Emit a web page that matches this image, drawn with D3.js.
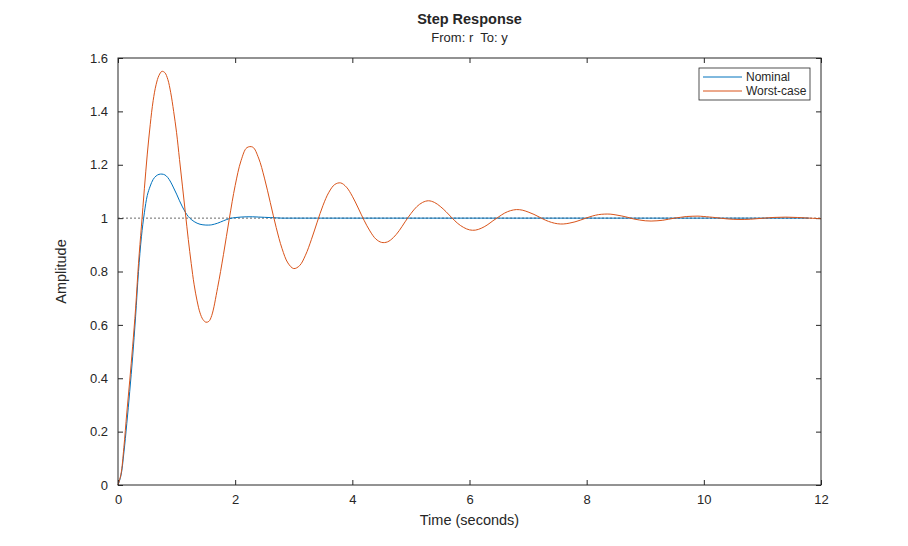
<!DOCTYPE html>
<html>
<head>
<meta charset="utf-8">
<script src="https://cdn.jsdelivr.net/npm/d3@7"></script>
<style>
  body { margin: 0; background: #fff; }
  svg { font-family: "Liberation Sans", Arial, sans-serif; }
</style>
</head>
<body>
<div id="chart"></div>
<script>
// time samples (seconds), shared by both responses
var timeS = [0, 0.05, 0.1, 0.15, 0.2, 0.25, 0.3, 0.35, 0.4, 0.45, 0.5, 0.55, 0.6, 0.65, 0.7, 0.75,
  0.8, 0.85, 0.9, 0.95, 1.0, 1.05, 1.1, 1.15, 1.2, 1.25, 1.3, 1.35, 1.4, 1.45, 1.5, 1.55, 1.6,
  1.7, 1.8, 1.9, 2.0, 2.1, 2.2, 2.3, 2.4, 2.5, 2.6, 2.7, 2.8, 2.9, 3.0, 3.1, 3.2, 3.3, 3.4, 3.5,
  3.6, 3.7, 3.8, 3.9, 4.0, 4.1, 4.2, 4.3, 4.4, 4.5, 4.6, 4.7, 4.8, 4.9, 5.0, 5.1, 5.2, 5.3, 5.4,
  5.5, 5.6, 5.7, 5.8, 5.9, 6.0, 6.1, 6.2, 6.3, 6.4, 6.5, 6.6, 6.7, 6.8, 6.9, 7.0, 7.1, 7.2, 7.3,
  7.4, 7.5, 7.6, 7.7, 7.8, 7.9, 8.0, 8.1, 8.2, 8.3, 8.4, 8.5, 8.6, 8.7, 8.8, 8.9, 9.0, 9.1, 9.2,
  9.3, 9.4, 9.5, 9.6, 9.7, 9.8, 9.9, 10.0, 10.2, 10.4, 10.6, 10.8, 11.0, 11.2, 11.4, 11.6, 11.8, 12.0];

var nominal = [0, 0.035, 0.12, 0.23, 0.35, 0.48, 0.63, 0.80, 0.93, 1.02, 1.085, 1.12, 1.145, 1.158, 1.164, 1.165,
  1.162, 1.152, 1.135, 1.113, 1.09, 1.065, 1.042, 1.022, 1.006, 0.995, 0.987, 0.981, 0.977, 0.975, 0.974, 0.974, 0.975,
  0.981, 0.990, 0.998, 1.002, 1.004, 1.005, 1.005, 1.004, 1.003, 1.002, 1.001, 1.0, 1.0, 1.0, 1.0, 1.0, 1.0, 1.0, 1.0,
  1.0, 1.0, 1.0, 1.0, 1.0, 1.0, 1.0, 1.0, 1.0, 1.0, 1.0, 1.0, 1.0, 1.0, 1.0, 1.0, 1.0, 1.0, 1.0,
  1.0, 1.0, 1.0, 1.0, 1.0, 1.0, 1.0, 1.0, 1.0, 1.0, 1.0, 1.0, 1.0, 1.0, 1.0, 1.0, 1.0, 1.0, 1.0,
  1.0, 1.0, 1.0, 1.0, 1.0, 1.0, 1.0, 1.0, 1.0, 1.0, 1.0, 1.0, 1.0, 1.0, 1.0, 1.0, 1.0, 1.0, 1.0,
  1.0, 1.0, 1.0, 1.0, 1.0, 1.0, 1.0, 1.0, 1.0, 1.0, 1.0, 1.0, 1.0, 1.0, 1.0, 1.0, 1.0];

var worstCase = [0, 0.04, 0.14, 0.27, 0.39, 0.52, 0.66, 0.83, 0.97, 1.11, 1.24, 1.35, 1.44, 1.50, 1.535, 1.55,
  1.545, 1.52, 1.47, 1.40, 1.32, 1.22, 1.12, 1.02, 0.92, 0.83, 0.75, 0.69, 0.645, 0.62, 0.61, 0.613, 0.635,
  0.739, 0.863, 0.998, 1.122, 1.215, 1.264, 1.266, 1.225, 1.150, 1.058, 0.965, 0.886, 0.832, 0.811, 0.822, 0.861, 0.919, 0.985, 1.048,
  1.097, 1.126, 1.132, 1.116, 1.082, 1.038, 0.992, 0.952, 0.922, 0.909, 0.911, 0.927, 0.953, 0.986, 1.017, 1.043, 1.059, 1.065, 1.059,
  1.044, 1.024, 1.001, 0.980, 0.965, 0.956, 0.955, 0.962, 0.974, 0.990, 1.005, 1.019, 1.028, 1.032, 1.030, 1.023, 1.014, 1.003, 0.992,
  0.984, 0.979, 0.978, 0.981, 0.986, 0.993, 1.001, 1.008, 1.013, 1.015, 1.015, 1.012, 1.008, 1.003, 0.997, 0.993, 0.990, 0.989, 0.990,
  0.992, 0.996, 1.000, 1.003, 1.006, 1.007, 1.0075, 1.006, 1.002, 0.997, 0.995, 0.996, 0.9995, 1.0026, 1.0037, 1.0024, 1.0, 0.998];

var seriesNames = ["Nominal", "Worst-case"];
var seriesColors = ["#0072BD", "#D95319"];
var xTicks = [0, 2, 4, 6, 8, 10, 12];
var yTicks = [0, 0.2, 0.4, 0.6, 0.8, 1, 1.2, 1.4, 1.6];

var svgWidth = 908, svgHeight = 546;
var margin = { top: 58, right: 87, bottom: 61, left: 118 };
var width = svgWidth - margin.left - margin.right;
var height = svgHeight - margin.top - margin.bottom;
var ink = "#262626";

var svg = d3.select("#chart").append("svg")
  .attr("width", svgWidth)
  .attr("height", svgHeight);

var chartGroup = svg.append("g")
  .attr("transform", `translate(${margin.left}, ${margin.top})`);

var xScale = d3.scaleLinear().domain([0, 12]).range([0, width]);
var yScale = d3.scaleLinear().domain([0, 1.6]).range([height, 0]);

// axes, ticks pointing inward on all four sides
function styleAxis(g) {
  g.select(".domain").remove();
  g.selectAll(".tick line").attr("stroke", ink);
  g.selectAll(".tick text").attr("fill", ink).attr("font-size", 13)
    .attr("font-family", "Liberation Sans, Arial, sans-serif");
}

chartGroup.append("g")
  .attr("transform", `translate(0, ${height})`)
  .call(d3.axisBottom(xScale).tickValues(xTicks).tickSizeInner(-5).tickSizeOuter(0).tickPadding(10).tickFormat(d3.format("d")))
  .call(styleAxis);

chartGroup.append("g")
  .call(d3.axisTop(xScale).tickValues(xTicks).tickSizeInner(-5).tickSizeOuter(0).tickFormat(""))
  .call(styleAxis);

chartGroup.append("g")
  .call(d3.axisLeft(yScale).tickValues(yTicks).tickSizeInner(-5).tickSizeOuter(0).tickPadding(10).tickFormat(d3.format("~g")))
  .call(styleAxis);

chartGroup.append("g")
  .attr("transform", `translate(${width}, 0)`)
  .call(d3.axisRight(yScale).tickValues(yTicks).tickSizeInner(-5).tickSizeOuter(0).tickFormat(""))
  .call(styleAxis);

// steady-state reference line
chartGroup.append("line")
  .attr("x1", xScale(0)).attr("x2", xScale(12))
  .attr("y1", yScale(1)).attr("y2", yScale(1))
  .attr("stroke", "#444")
  .attr("stroke-width", 0.8)
  .attr("stroke-dasharray", "2,2");

var line = d3.line()
  .x(d => xScale(d[0]))
  .y(d => yScale(d[1]))
  .curve(d3.curveCatmullRom);

[nominal, worstCase].forEach(function(vals, i) {
  chartGroup.append("path")
    .datum(timeS.map((t, k) => [t, vals[k]]))
    .attr("fill", "none")
    .attr("stroke", seriesColors[i])
    .attr("stroke-width", 1)
    .attr("d", line);
});

// box
chartGroup.append("rect")
  .attr("width", width).attr("height", height)
  .attr("fill", "none")
  .attr("stroke", ink)
  .attr("stroke-width", 1);

// legend
var legend = chartGroup.append("g")
  .attr("transform", `translate(${width - 122}, 10)`);

legend.append("rect")
  .attr("width", 111).attr("height", 32)
  .attr("fill", "#fff")
  .attr("stroke", ink)
  .attr("stroke-width", 0.8);

seriesNames.forEach(function(name, i) {
  legend.append("line")
    .attr("x1", 4).attr("x2", 43)
    .attr("y1", 9 + i * 14).attr("y2", 9 + i * 14)
    .attr("stroke", seriesColors[i])
    .attr("stroke-width", 1);
  legend.append("text")
    .attr("x", 47).attr("y", 13 + i * 14)
    .attr("font-size", 12)
    .attr("fill", ink)
    .text(name);
});

// titles and labels
svg.append("text")
  .attr("x", margin.left + width / 2).attr("y", 24)
  .attr("text-anchor", "middle")
  .attr("font-size", 14.5).attr("font-weight", "bold")
  .attr("fill", ink)
  .text("Step Response");

svg.append("text")
  .attr("x", margin.left + width / 2).attr("y", 42)
  .attr("text-anchor", "middle")
  .attr("font-size", 13)
  .attr("fill", ink)
  .attr("xml:space", "preserve")
  .style("white-space", "pre")
  .text("From: r  To: y");

svg.append("text")
  .attr("x", margin.left + width / 2).attr("y", 525)
  .attr("text-anchor", "middle")
  .attr("font-size", 14.5)
  .attr("fill", ink)
  .text("Time (seconds)");

svg.append("text")
  .attr("transform", "rotate(-90)")
  .attr("x", -(margin.top + height / 2)).attr("y", 66)
  .attr("text-anchor", "middle")
  .attr("font-size", 14.5)
  .attr("fill", ink)
  .text("Amplitude");
</script>
</body>
</html>
